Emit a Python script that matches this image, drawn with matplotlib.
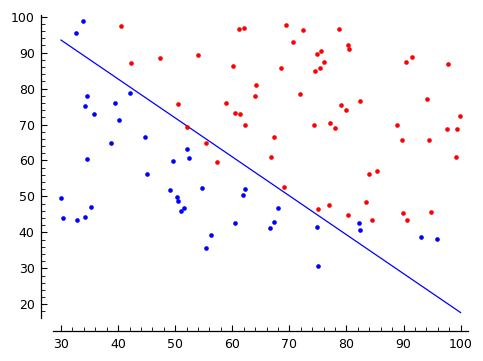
import matplotlib
matplotlib.use("Agg")
import matplotlib.pyplot as plt
from matplotlib.ticker import MultipleLocator

# Exam 1 score, Exam 2 score, admitted (1) / not admitted (0)
exam1 = [34.62, 30.29, 35.85, 60.18, 79.03, 45.08, 61.11, 75.02, 76.10, 84.43,
         95.86, 75.01, 82.31, 69.36, 39.54, 53.97, 69.07, 67.95, 70.66, 76.98,
         67.37, 89.68, 50.53, 34.21, 77.92, 62.27, 80.19, 93.11, 61.83, 38.79,
         61.38, 85.40, 52.11, 52.05, 40.24, 54.64, 33.92, 64.18, 74.79, 34.18,
         83.90, 51.55, 94.44, 82.37, 51.05, 62.22, 77.19, 97.77, 62.07, 91.56,
         79.94, 99.27, 90.55, 34.52, 50.29, 49.59, 97.65, 32.58, 74.25, 71.80,
         75.40, 35.29, 56.25, 30.06, 44.67, 66.56, 40.46, 49.07, 80.28, 66.75,
         32.72, 64.04, 72.35, 60.46, 58.84, 99.83, 47.26, 50.46, 60.46, 82.23,
         88.91, 94.83, 67.32, 57.24, 80.37, 68.47, 42.08, 75.48, 78.64, 52.35,
         94.09, 90.45, 55.48, 74.49, 89.85, 83.49, 42.26, 99.32, 55.34, 74.78]
exam2 = [78.02, 43.89, 72.90, 86.31, 75.34, 56.32, 96.51, 46.55, 87.42, 43.53,
         38.23, 30.60, 76.48, 97.72, 76.04, 89.21, 52.74, 46.68, 92.93, 47.58,
         42.84, 65.80, 48.86, 44.21, 68.97, 69.95, 44.82, 38.80, 50.26, 65.00,
         72.81, 57.05, 63.13, 69.43, 71.17, 52.21, 98.87, 80.91, 41.57, 75.24,
         56.31, 46.86, 65.57, 40.62, 45.82, 52.06, 70.46, 86.73, 96.77, 88.70,
         74.16, 61.00, 43.39, 60.40, 49.80, 59.81, 68.86, 95.60, 69.82, 78.45,
         85.76, 47.02, 39.26, 49.59, 66.45, 41.09, 97.54, 51.88, 92.12, 60.99,
         43.31, 78.03, 96.23, 73.09, 75.86, 72.37, 88.48, 75.81, 42.51, 42.72,
         69.80, 45.69, 66.59, 59.51, 90.96, 85.59, 78.84, 90.42, 96.65, 60.77,
         77.16, 87.51, 35.57, 84.85, 45.36, 48.38, 87.10, 68.78, 64.93, 89.53]
admitted = [0, 0, 0, 1, 1, 0, 1, 1, 1, 1,
            0, 0, 1, 1, 0, 1, 1, 0, 1, 1,
            0, 1, 0, 0, 1, 1, 1, 0, 0, 0,
            1, 1, 0, 1, 0, 0, 0, 1, 0, 0,
            1, 0, 1, 0, 0, 0, 1, 1, 1, 1,
            1, 1, 1, 0, 0, 0, 1, 0, 1, 1,
            1, 0, 0, 0, 0, 0, 1, 0, 1, 1,
            0, 1, 1, 1, 1, 1, 1, 1, 0, 0,
            1, 1, 1, 1, 1, 1, 0, 1, 1, 0,
            1, 1, 0, 1, 1, 1, 1, 1, 1, 1]

# decision boundary end points
boundary_x = [30, 100]
boundary_y = [93.5, 17.7]

W, H, DPI = 483, 361, 100
fig = plt.figure(figsize=(W / DPI, H / DPI), dpi=DPI)
ax = fig.add_axes([53.3 / W, 1 - 318.3 / H, (468.3 - 53.3) / W, (318.3 - 15) / H])

pos_x = [a for a, l in zip(exam1, admitted) if l == 1]
pos_y = [b for b, l in zip(exam2, admitted) if l == 1]
neg_x = [a for a, l in zip(exam1, admitted) if l == 0]
neg_y = [b for b, l in zip(exam2, admitted) if l == 0]

ax.plot(boundary_x, boundary_y, color="#0000ff", lw=0.9, zorder=1)
ax.scatter(pos_x, pos_y, s=11, color="#ff0000", linewidths=0, zorder=2)
ax.scatter(neg_x, neg_y, s=11, color="#0000ff", linewidths=0, zorder=2)

ax.set_xlim(28.65, 101.35)
ax.set_ylim(16.1, 100.47)

ax.spines["top"].set_visible(False)
ax.spines["right"].set_visible(False)
off = 12.7 * 72 / DPI
ax.spines["left"].set_position(("outward", off))
ax.spines["bottom"].set_position(("outward", off))
for s in ("left", "bottom"):
    ax.spines[s].set_linewidth(0.9)

ax.xaxis.set_major_locator(MultipleLocator(10))
ax.xaxis.set_minor_locator(MultipleLocator(2))
ax.yaxis.set_major_locator(MultipleLocator(10))
ax.yaxis.set_minor_locator(MultipleLocator(2))
ax.tick_params(which="major", direction="in", length=4.4, width=0.8, labelsize=9, pad=4.3)
ax.tick_params(which="minor", direction="in", length=2.7, width=0.6)
ax.tick_params(axis="x", which="major", pad=5)

fig.savefig("out.png", dpi=DPI)
